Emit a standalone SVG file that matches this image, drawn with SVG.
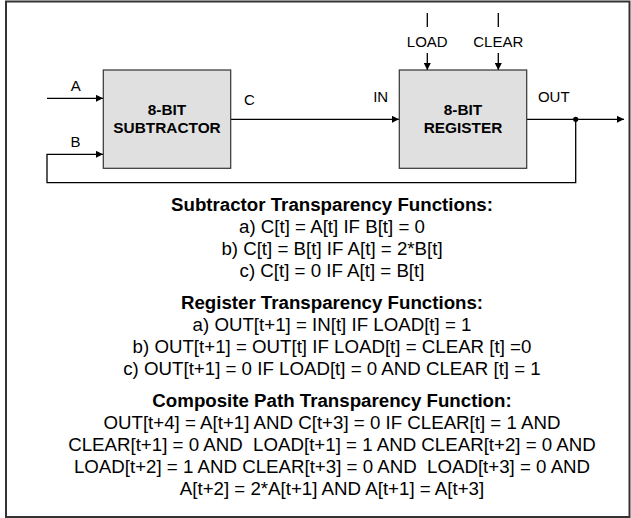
<svg xmlns="http://www.w3.org/2000/svg" width="631" height="518" viewBox="0 0 631 518">
<style>
.lbl{font-family:"Liberation Sans",Arial,sans-serif;font-size:15px;fill:#000;text-anchor:middle}
.box{fill:#e0e0e0;stroke:#333;stroke-width:1.2}
.boxt{font-family:"Liberation Sans",Arial,sans-serif;font-size:15.4px;font-weight:bold;fill:#000;text-anchor:middle}
.wire{fill:none;stroke:#000;stroke-width:1.3}
.txt{font-family:"Liberation Sans",Arial,sans-serif;font-size:18.7px;fill:#000;text-anchor:middle;white-space:pre}
.hd{font-weight:bold}
</style>
<defs>
<marker id="arr" viewBox="0 0 10 10" refX="10" refY="5" markerWidth="7" markerHeight="7" markerUnits="userSpaceOnUse" orient="auto">
<path d="M0,0 L10,5 L0,10 Z" fill="#000"/>
</marker>
</defs>
<rect x="6" y="1.5" width="623.5" height="515.5" fill="#fff" stroke="#333" stroke-width="2"/>
<g id="connectors">
<line class="wire" x1="47" y1="98.3" x2="103" y2="98.3" marker-end="url(#arr)"/>
<polyline class="wire" points="575.7,119.3 575.7,182.7 47,182.7 47,154.3 103,154.3" marker-end="url(#arr)"/>
<line class="wire" x1="231" y1="119.3" x2="399" y2="119.3" marker-end="url(#arr)"/>
<line class="wire" x1="527" y1="119.3" x2="624" y2="119.3" marker-end="url(#arr)"/>
<circle cx="575.7" cy="119.3" r="2.6" fill="#000"/>
<line class="wire" x1="427.3" y1="13" x2="427.3" y2="27"/>
<line class="wire" x1="498.3" y1="13" x2="498.3" y2="27"/>
<line class="wire" x1="427.3" y1="53" x2="427.3" y2="70" marker-end="url(#arr)"/>
<line class="wire" x1="498.3" y1="53" x2="498.3" y2="70" marker-end="url(#arr)"/>
<text class="lbl" x="75.7" y="90.7">A</text>
<text class="lbl" x="75.5" y="146.7">B</text>
<text class="lbl" x="249.5" y="105">C</text>
<text class="lbl" x="380.7" y="101.7">IN</text>
<text class="lbl" x="553.8" y="101.7">OUT</text>
<text class="lbl" x="427.3" y="46.7">LOAD</text>
<text class="lbl" x="498.3" y="46.7">CLEAR</text>
</g>
<g id="subtractor">
<rect class="box" x="103.3" y="70" width="127.4" height="98.3"/>
<text class="boxt" x="167" y="115">8-BIT</text>
<text class="boxt" x="167" y="133.3">SUBTRACTOR</text>
</g>
<g id="register">
<rect class="box" x="399.3" y="70" width="127.4" height="98.3"/>
<text class="boxt" x="463" y="115">8-BIT</text>
<text class="boxt" x="463" y="133.3">REGISTER</text>
</g>
<g id="functions">
<text class="txt hd" x="332" y="211">Subtractor Transparency Functions:</text>
<text class="txt" x="332" y="233">a) C[t] = A[t] IF B[t] = 0</text>
<text class="txt" x="332" y="255">b) C[t] = B[t] IF A[t] = 2*B[t]</text>
<text class="txt" x="332" y="277">c) C[t] = 0 IF A[t] = B[t]</text>
<text class="txt hd" x="332" y="309">Register Transparency Functions:</text>
<text class="txt" x="332" y="331">a) OUT[t+1] = IN[t] IF LOAD[t] = 1</text>
<text class="txt" x="332" y="353">b) OUT[t+1] = OUT[t] IF LOAD[t] = CLEAR [t] =0</text>
<text class="txt" x="332" y="375">c) OUT[t+1] = 0 IF LOAD[t] = 0 AND CLEAR [t] = 1</text>
<text class="txt hd" x="332" y="407">Composite Path Transparency Function:</text>
<text class="txt" x="332" y="429">OUT[t+4] = A[t+1] AND C[t+3] = 0 IF CLEAR[t] = 1 AND</text>
<text class="txt" x="332" y="451">CLEAR[t+1] = 0 AND  LOAD[t+1] = 1 AND CLEAR[t+2] = 0 AND</text>
<text class="txt" x="332" y="473">LOAD[t+2] = 1 AND CLEAR[t+3] = 0 AND  LOAD[t+3] = 0 AND</text>
<text class="txt" x="332" y="495">A[t+2] = 2*A[t+1] AND A[t+1] = A[t+3]</text>
</g>
</svg>
